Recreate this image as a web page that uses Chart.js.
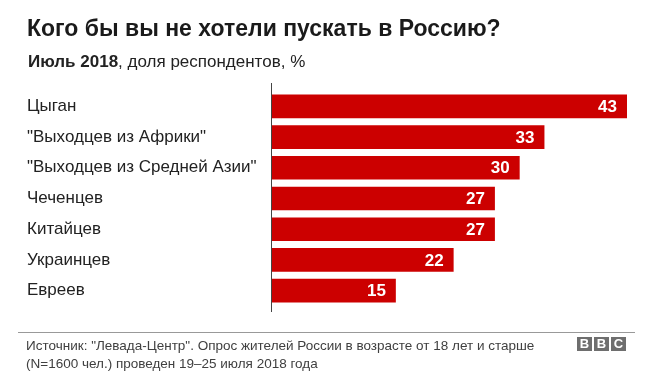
<!DOCTYPE html>
<html>
<head>
<meta charset="utf-8">
<script src="https://cdn.jsdelivr.net/npm/chart.js@4"></script>
<style>
html,body{margin:0;padding:0;background:#fff;}
body{width:659px;height:383px;position:relative;overflow:hidden;font-family:"Liberation Sans",Arial,Helvetica,sans-serif;}
#wrap{position:absolute;left:0;top:0;width:659px;height:383px;}
#title{position:absolute;left:27px;top:15px;font-size:23px;font-weight:bold;color:#1a1a1a;white-space:nowrap;}
#subtitle{position:absolute;left:28px;top:52px;font-size:17px;color:#222;white-space:nowrap;}
#rule{position:absolute;left:18px;top:332px;width:617px;height:0;border-top:1px solid #999;}
#source{position:absolute;left:26px;top:337px;font-size:13.5px;line-height:18px;color:#404040;white-space:nowrap;}
#bbc{position:absolute;left:577px;top:337px;height:14px;display:flex;gap:2px;}
#bbc span{display:block;width:15px;height:14px;background:#6e6e6e;color:#fff;font-weight:bold;font-size:13px;line-height:14px;text-align:center;}
</style>
</head>
<body>
<div id="wrap"><canvas id="c" width="659" height="383"></canvas></div>
<div id="title">Кого бы вы не хотели пускать в Россию?</div>
<div id="subtitle"><b>Июль 2018</b>, доля респондентов, %</div>
<div id="rule"></div>
<div id="source">Источник: "Левада-Центр". Опрос жителей России в возрасте от 18 лет и старше<br>(N=1600 чел.) проведен 19–25 июля 2018 года</div>
<div id="bbc"><span>B</span><span>B</span><span>C</span></div>
<script>
const categories = ['Цыган', '"Выходцев из Африки"', '"Выходцев из Средней Азии"', 'Чеченцев', 'Китайцев', 'Украинцев', 'Евреев'];
const values = [43, 33, 30, 27, 27, 22, 15];

const FONT = '"Liberation Sans", Arial, Helvetica, sans-serif';

const axisLine = {
  id: 'axisLine',
  afterDatasetsDraw(chart) {
    const ctx = chart.ctx;
    const x = Math.round(chart.scales.x.getPixelForValue(0)) - 0.5;
    ctx.save();
    ctx.strokeStyle = '#444';
    ctx.lineWidth = 1;
    ctx.beginPath();
    ctx.moveTo(x, chart.chartArea.top - 8);
    ctx.lineTo(x, chart.chartArea.bottom + 6);
    ctx.stroke();
    ctx.restore();
  }
};

const valueLabels = {
  id: 'valueLabels',
  afterDatasetsDraw(chart) {
    const ctx = chart.ctx;
    const meta = chart.getDatasetMeta(0);
    ctx.save();
    ctx.fillStyle = '#fff';
    ctx.font = 'bold 17px ' + FONT;
    ctx.textAlign = 'right';
    ctx.textBaseline = 'middle';
    meta.data.forEach((bar, i) => {
      ctx.fillText(String(values[i]), bar.x - 10, bar.y + 1);
    });
    ctx.restore();
  }
};

new Chart(document.getElementById('c'), {
  type: 'bar',
  data: {
    labels: categories,
    datasets: [{
      data: values,
      backgroundColor: '#cc0000',
      borderWidth: 0,
      barPercentage: 0.77,
      categoryPercentage: 1.0
    }]
  },
  options: {
    indexAxis: 'y',
    responsive: false,
    animation: false,
    devicePixelRatio: 1,
    layout: { padding: { top: 91, bottom: 77, left: 27, right: 32 } },
    plugins: { legend: { display: false }, tooltip: { enabled: false } },
    scales: {
      x: { display: false, min: 0, max: 43 },
      y: {
        grid: { display: false },
        border: { display: false },
        afterFit(scale) { scale.width = 245; },
        ticks: {
          crossAlign: 'far',
          padding: 0,
          color: '#222',
          font: { family: FONT, size: 17 }
        }
      }
    }
  },
  plugins: [axisLine, valueLabels]
});
</script>
</body>
</html>
